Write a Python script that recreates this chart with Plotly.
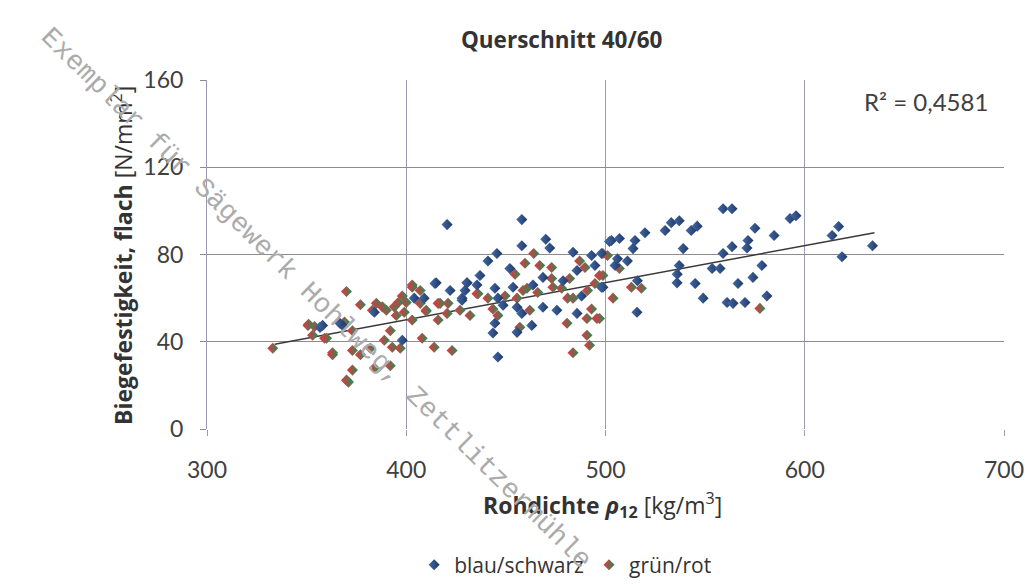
import plotly.graph_objects as go

# ---------------- data ----------------
blue_x = [368, 384, 404, 409, 415, 422, 398, 356.7, 366.7, 358,
          458, 458, 470, 472, 445.5, 441, 452, 437, 430.5, 435.5,
          429.5, 444.5, 453.6, 463.6, 468.6, 478.7, 483.7, 485.7, 493, 494.7,
          498, 502, 498, 488, 446, 428, 448.6, 455.6, 458, 468.6,
          475.6, 485.7, 463, 444.5, 443.5, 455.6, 446, 420.5, 414.4, 428,
          559, 563.5, 533, 537, 529.9, 543, 546, 519.8, 503, 507,
          514.8, 513.8, 539, 575, 571.5, 571, 563.5, 559, 506, 511,
          504.8, 537, 536, 553.5, 557.5, 535.9, 545, 516, 498.7, 566.5,
          574, 549, 561, 564, 570, 515.8, 592.6, 595.6, 584.6, 613.7,
          617, 634, 618.7, 578.5, 581]
blue_y = [47.5, 53.5, 60, 60, 67, 63.5, 40.7, 46.6, 48.5, 47.5,
          96, 84, 87, 83, 80.5, 77, 73.6, 70.4, 67, 66,
          63.5, 64.5, 65, 66, 69.5, 68, 81, 72.7, 79.5, 75,
          80.5, 86, 65, 61, 60, 60, 56.7, 55.8, 53, 55.8,
          54.4, 53, 47.5, 48.5, 44, 44.3, 33, 93.7, 66.7, 59,
          101, 101, 94.6, 95.5, 91, 91, 93, 90, 86.4, 87.3,
          86.4, 82.7, 82.7, 92, 86.4, 83, 83.6, 80.5, 78, 77,
          75, 75, 71, 73.6, 73.6, 67, 66.7, 68, 65, 66.7,
          69.5, 60, 58, 57.6, 58, 53.5, 96.5, 97.8, 88.7, 88.7,
          92.8, 84, 79, 75, 61]

gr_x = [333, 351, 354, 353, 359, 363, 370, 377, 385, 390,
        394, 395, 400, 403, 407, 410, 416, 421, 416, 403,
        399, 392, 369, 373, 360, 389, 393, 397, 382, 377,
        373, 363, 408, 414, 423, 373, 384, 392, 371, 370,
        350.7, 403, 407, 430.5, 435.5, 398, 396, 388, 383, 410,
        417, 420.5,
        464, 459.6, 467, 473, 454.6, 460.6, 473, 482, 487, 489.7,
        497, 494.7, 491, 483.7, 481, 478, 473.6, 466, 458.6, 455.6,
        449.6, 441, 436, 427, 432, 443.5, 446, 462, 490.7, 495.7,
        493, 480.7, 457, 490.7, 492, 483.7,
        498.7, 501, 507, 498.7, 513, 518, 503.8, 497, 577.5]
gr_y = [37, 48, 47, 43, 41.6, 35, 63, 57, 57.6, 54.4,
        56, 52, 58, 65, 57.6, 54, 57.6, 57.6, 50, 50,
        53.5, 45, 49, 45, 41.6, 40.7, 37.5, 37, 37, 34,
        36, 34, 41.6, 37.5, 36, 27, 28, 29, 21.5, 22.4,
        47.5, 66, 63.5, 67, 62, 61, 58, 56, 54.4, 54.4,
        57.6, 53,
        80.5, 76, 75, 74, 71, 64.5, 69, 69, 77, 74,
        70.4, 66.7, 63.5, 60, 60, 64.5, 65, 62.6, 63.5, 60,
        61, 60, 62, 54.4, 52, 55, 52, 54.4, 50.7, 50.7,
        55, 48.5, 46.6, 43, 38.4, 35,
        80.5, 79.5, 73.6, 70.4, 65, 64.5, 60, 50.7, 55.3]

trend_x = [334, 635]
trend_y = [38.9, 90.0]

series_names = ["blau/schwarz", "grün/rot"]
x_ticks = [300, 400, 500, 600, 700]
y_ticks = [0, 40, 80, 120, 160]
r2_text = "R² = 0,4581"
title_text = "Querschnitt 40/60"
watermark = "Exemplar für Sägewerk Hohlweg, Zettlitzermühle"

TICKFONT = "Lato"
LABELFONT = "Open Sans"

fig = go.Figure()

fig.add_trace(go.Scatter(
    x=trend_x, y=trend_y, mode="lines",
    line=dict(color="#3a3a3a", width=1.5),
    showlegend=False, hoverinfo="skip"))

fig.add_trace(go.Scatter(
    x=gr_x, y=gr_y, mode="markers", name=series_names[1],
    marker=dict(symbol="diamond", size=8.5, color="#f0303c",
                gradient=dict(type="horizontal", color="#1f8f5a"),
                line=dict(width=0))))

fig.add_trace(go.Scatter(
    x=blue_x, y=blue_y, mode="markers", name=series_names[0],
    marker=dict(symbol="diamond", size=8.5, color="#3f69ad",
                gradient=dict(type="horizontal", color="#24395f"),
                line=dict(width=0))))

fig.update_layout(
    width=1025, height=586,
    paper_bgcolor="white", plot_bgcolor="white",
    margin=dict(l=207, r=21, t=80, b=157, autoexpand=False),
    font=dict(family=TICKFONT, size=23, color="#404040"),
    title=dict(text="<b>" + title_text + "</b>", x=0.548, xanchor="center",
               y=1 - 40 / 586, yanchor="middle",
               font=dict(family=LABELFONT, size=22.5, color="#333333")),
    showlegend=True,
    legend=dict(orientation="h", x=0.45, xanchor="center", y=-0.39, yanchor="middle",
                font=dict(family=LABELFONT, size=21, color="#333333"),
                traceorder="reversed", itemwidth=30),
)

fig.update_xaxes(range=[300, 700], tickvals=x_ticks, showgrid=True, automargin=False,
                 gridcolor="#9a9ab2", gridwidth=1, zeroline=False,
                 showline=False, ticks="outside", ticklen=6, tickcolor="#9a9ab2",
                 ticklabelstandoff=14, tickfont=dict(size=23, color="#404040"))
fig.update_yaxes(range=[0, 160], tickvals=y_ticks, showgrid=True, automargin=False,
                 gridcolor="#8c8c8c", gridwidth=1, zeroline=False,
                 showline=True, linecolor="#9a9ab2", linewidth=1,
                 ticks="outside", ticklen=6, tickcolor="#8c8c8c",
                 ticklabelstandoff=12, tickfont=dict(size=23, color="#404040"))

# axis titles
fig.add_annotation(text="<b>Rohdichte <i>ρ</i><sub>12</sub></b> [kg/m<sup>3</sup>]",
                   xref="paper", yref="paper", x=(602 - 207) / 797, y=-(505 - 429) / 349,
                   xanchor="center", yanchor="middle", showarrow=False,
                   font=dict(family=LABELFONT, size=23, color="#333333"))
fig.add_annotation(text="<b>Biegefestigkeit, flach</b> [N/mm<sup>2</sup>]",
                   xref="paper", yref="paper", x=-(207 - 122) / 797, y=(429 - 256) / 349,
                   xanchor="center", yanchor="middle", textangle=-90, showarrow=False,
                   font=dict(family=LABELFONT, size=23, color="#333333"))
fig.add_annotation(text=r2_text, xref="paper", yref="paper",
                   x=(990 - 207) / 797, y=(429 - 101) / 349,
                   xanchor="right", yanchor="middle", showarrow=False,
                   font=dict(family=TICKFONT, size=24, color="#404040"))
# scan watermark
fig.add_annotation(text=watermark, xref="paper", yref="paper",
                   x=(316 - 207) / 797, y=(429 - 298) / 349,
                   xanchor="center", yanchor="middle", textangle=44.5, showarrow=False,
                   font=dict(family="Liberation Mono", size=27.5, color="#ababab"))

fig.write_html("out.html")
